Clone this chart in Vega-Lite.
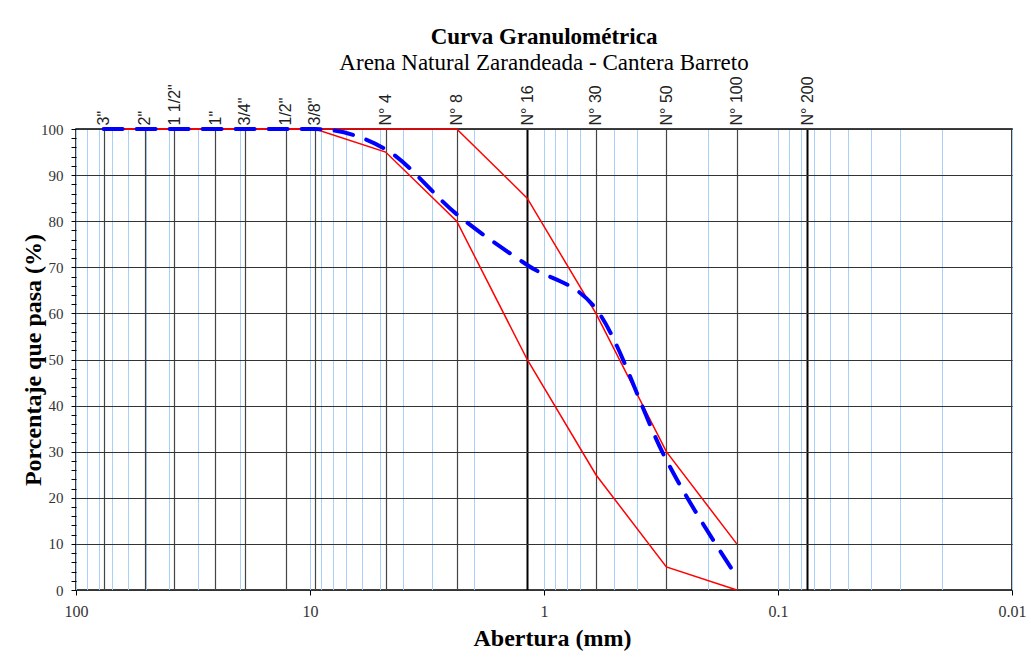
{
  "$schema": "https://vega.github.io/schema/vega-lite/v6.json",
  "width": 936,
  "height": 461,
  "autosize": {"type": "none"},
  "padding": {"left": 76, "top": 129, "right": 19, "bottom": 73},
  "background": "white",
  "title": {
    "text": "Curva Granulométrica",
    "subtitle": "Arena Natural Zarandeada - Cantera Barreto",
    "anchor": "middle",
    "font": "Liberation Serif",
    "fontSize": 23,
    "fontWeight": "bold",
    "color": "#000000",
    "subtitleFont": "Liberation Serif",
    "subtitleFontSize": 23,
    "subtitleColor": "#000000",
    "subtitlePadding": 3,
    "offset": 1
  },
  "config": {
    "view": {"stroke": "#000000", "strokeWidth": 1.5},
    "axis": {"domain": false}
  },
  "datasets": {
    "curvas": [
      {"abertura": 76.2, "pasa": 100, "serie": "Límite superior"},
      {"abertura": 50.8, "pasa": 100, "serie": "Límite superior"},
      {"abertura": 38.1, "pasa": 100, "serie": "Límite superior"},
      {"abertura": 25.4, "pasa": 100, "serie": "Límite superior"},
      {"abertura": 19.05, "pasa": 100, "serie": "Límite superior"},
      {"abertura": 12.7, "pasa": 100, "serie": "Límite superior"},
      {"abertura": 9.525, "pasa": 100, "serie": "Límite superior"},
      {"abertura": 4.75, "pasa": 100, "serie": "Límite superior"},
      {"abertura": 2.36, "pasa": 100, "serie": "Límite superior"},
      {"abertura": 1.18, "pasa": 85, "serie": "Límite superior"},
      {"abertura": 0.6, "pasa": 60, "serie": "Límite superior"},
      {"abertura": 0.3, "pasa": 30, "serie": "Límite superior"},
      {"abertura": 0.15, "pasa": 10, "serie": "Límite superior"},
      {"abertura": 76.2, "pasa": 100, "serie": "Límite inferior"},
      {"abertura": 50.8, "pasa": 100, "serie": "Límite inferior"},
      {"abertura": 38.1, "pasa": 100, "serie": "Límite inferior"},
      {"abertura": 25.4, "pasa": 100, "serie": "Límite inferior"},
      {"abertura": 19.05, "pasa": 100, "serie": "Límite inferior"},
      {"abertura": 12.7, "pasa": 100, "serie": "Límite inferior"},
      {"abertura": 9.525, "pasa": 100, "serie": "Límite inferior"},
      {"abertura": 4.75, "pasa": 95, "serie": "Límite inferior"},
      {"abertura": 2.36, "pasa": 80, "serie": "Límite inferior"},
      {"abertura": 1.18, "pasa": 50, "serie": "Límite inferior"},
      {"abertura": 0.6, "pasa": 25, "serie": "Límite inferior"},
      {"abertura": 0.3, "pasa": 5, "serie": "Límite inferior"},
      {"abertura": 0.15, "pasa": 0, "serie": "Límite inferior"},
      {"abertura": 76.2, "pasa": 100, "serie": "Muestra"},
      {"abertura": 50.8, "pasa": 100, "serie": "Muestra"},
      {"abertura": 38.1, "pasa": 100, "serie": "Muestra"},
      {"abertura": 25.4, "pasa": 100, "serie": "Muestra"},
      {"abertura": 19.05, "pasa": 100, "serie": "Muestra"},
      {"abertura": 12.7, "pasa": 100, "serie": "Muestra"},
      {"abertura": 9.525, "pasa": 100, "serie": "Muestra"},
      {"abertura": 4.75, "pasa": 95.6, "serie": "Muestra"},
      {"abertura": 2.36, "pasa": 81.5, "serie": "Muestra"},
      {"abertura": 1.18, "pasa": 70.5, "serie": "Muestra"},
      {"abertura": 0.6, "pasa": 61, "serie": "Muestra"},
      {"abertura": 0.3, "pasa": 28.2, "serie": "Muestra"},
      {"abertura": 0.15, "pasa": 2.9, "serie": "Muestra"}
    ]
  },
  "data": {"name": "curvas"},
  "resolve": {"scale": {"x": "shared", "y": "shared"}, "axis": {"x": "independent"}},
  "encoding": {
    "y": {
      "field": "pasa",
      "type": "quantitative",
      "scale": {"domain": [0, 100], "nice": false},
      "axis": {
        "title": "Porcentaje que pasa (%)",
        "titleFont": "Liberation Serif",
        "titleFontSize": 24,
        "titleFontWeight": "bold",
        "titleColor": "#000000",
        "titlePadding": -5,
        "values": [0, 2, 4, 6, 8, 10, 12, 14, 16, 18, 20, 22, 24, 26, 28, 30, 32, 34, 36, 38, 40, 42, 44, 46, 48, 50, 52, 54, 56, 58, 60, 62, 64, 66, 68, 70, 72, 74, 76, 78, 80, 82, 84, 86, 88, 90, 92, 94, 96, 98, 100],
        "labelExpr": "datum.value % 10 === 0 ? datum.label : ''",
        "labelFont": "Liberation Serif",
        "labelFontSize": 15,
        "labelColor": "#333333",
        "labelPadding": 8,
        "labelOverlap": false,
        "labelFlush": false,
        "tickSize": 5,
        "tickColor": "#000000",
        "grid": true,
        "gridColor": "#333333",
        "gridWidth": 1,
        "gridOpacity": {"condition": {"test": "datum.value % 10 === 0", "value": 1}, "value": 0}
      }
    }
  },
  "layer": [
    {
      "transform": [{"filter": "datum.serie !== 'Muestra'"}],
      "mark": {"type": "line", "color": "#ff0000", "strokeWidth": 1.5, "clip": false},
      "encoding": {
        "x": {
          "field": "abertura",
          "type": "quantitative",
          "scale": {"type": "log", "domain": [0.01, 100], "reverse": true, "nice": false},
          "axis": {
            "orient": "bottom",
            "title": "Abertura (mm)",
            "titleFont": "Liberation Serif",
            "titleFontSize": 24,
            "titleFontWeight": "bold",
            "titleColor": "#000000",
            "titlePadding": 7,
            "titleX": 476,
            "values": [0.01, 0.02, 0.03, 0.04, 0.05, 0.06, 0.07, 0.08, 0.09, 0.1, 0.2, 0.3, 0.4, 0.5, 0.6, 0.7, 0.8, 0.9, 1, 2, 3, 4, 5, 6, 7, 8, 9, 10, 20, 30, 40, 50, 60, 70, 80, 90, 100],
            "labelExpr": "indexof([100, 10, 1, 0.1, 0.01], datum.value) >= 0 ? toString(datum.value) : ''",
            "labelFont": "Liberation Serif",
            "labelFontSize": 16,
            "labelColor": "#333333",
            "labelPadding": 8,
            "labelFlush": false,
            "labelOverlap": false,
            "grid": true,
            "gridColor": "#a8d0f8",
            "gridWidth": 1,
            "ticks": true,
            "tickSize": 5,
            "tickColor": "#000000",
            "tickOpacity": {"condition": {"test": "indexof([100, 10, 1, 0.1, 0.01], datum.value) >= 0", "value": 1}, "value": 0}
          }
        },
        "detail": {"field": "serie"}
      }
    },
    {
      "transform": [{"filter": "datum.serie === 'Muestra'"}],
      "mark": {"type": "line", "color": "#0000ff", "strokeWidth": 4, "strokeDash": [19, 14], "strokeCap": "round", "interpolate": "monotone", "clip": false},
      "encoding": {
        "x": {
          "field": "abertura",
          "type": "quantitative",
          "scale": {"type": "log", "domain": [0.01, 100], "reverse": true, "nice": false},
          "axis": {
            "orient": "top",
            "title": null,
            "values": [76.2, 50.8, 38.1, 25.4, 19.05, 12.7, 9.525, 4.75, 2.36, 1.18, 0.6, 0.3, 0.15, 0.075],
            "labelExpr": "['3\"', '2\"', '1 1/2\"', '1\"', '3/4\"', '1/2\"', '3/8\"', 'N° 4', 'N° 8', 'N° 16', 'N° 30', 'N° 50', 'N° 100', 'N° 200'][indexof([76.2, 50.8, 38.1, 25.4, 19.05, 12.7, 9.525, 4.75, 2.36, 1.18, 0.6, 0.3, 0.15, 0.075], datum.value)]",
            "labelAngle": -90,
            "labelFont": "Liberation Sans",
            "labelFontSize": 16,
            "labelColor": "#222222",
            "labelPadding": 4,
            "labelOverlap": false,
            "labelFlush": false,
            "ticks": false,
            "grid": true,
            "gridColor": {"condition": {"test": "datum.value === 1.18 || datum.value === 0.075", "value": "#000000"}, "value": "#444444"},
            "gridWidth": {"condition": {"test": "datum.value === 1.18 || datum.value === 0.075", "value": 2}, "value": 1.2}
          }
        }
      }
    }
  ]
}
